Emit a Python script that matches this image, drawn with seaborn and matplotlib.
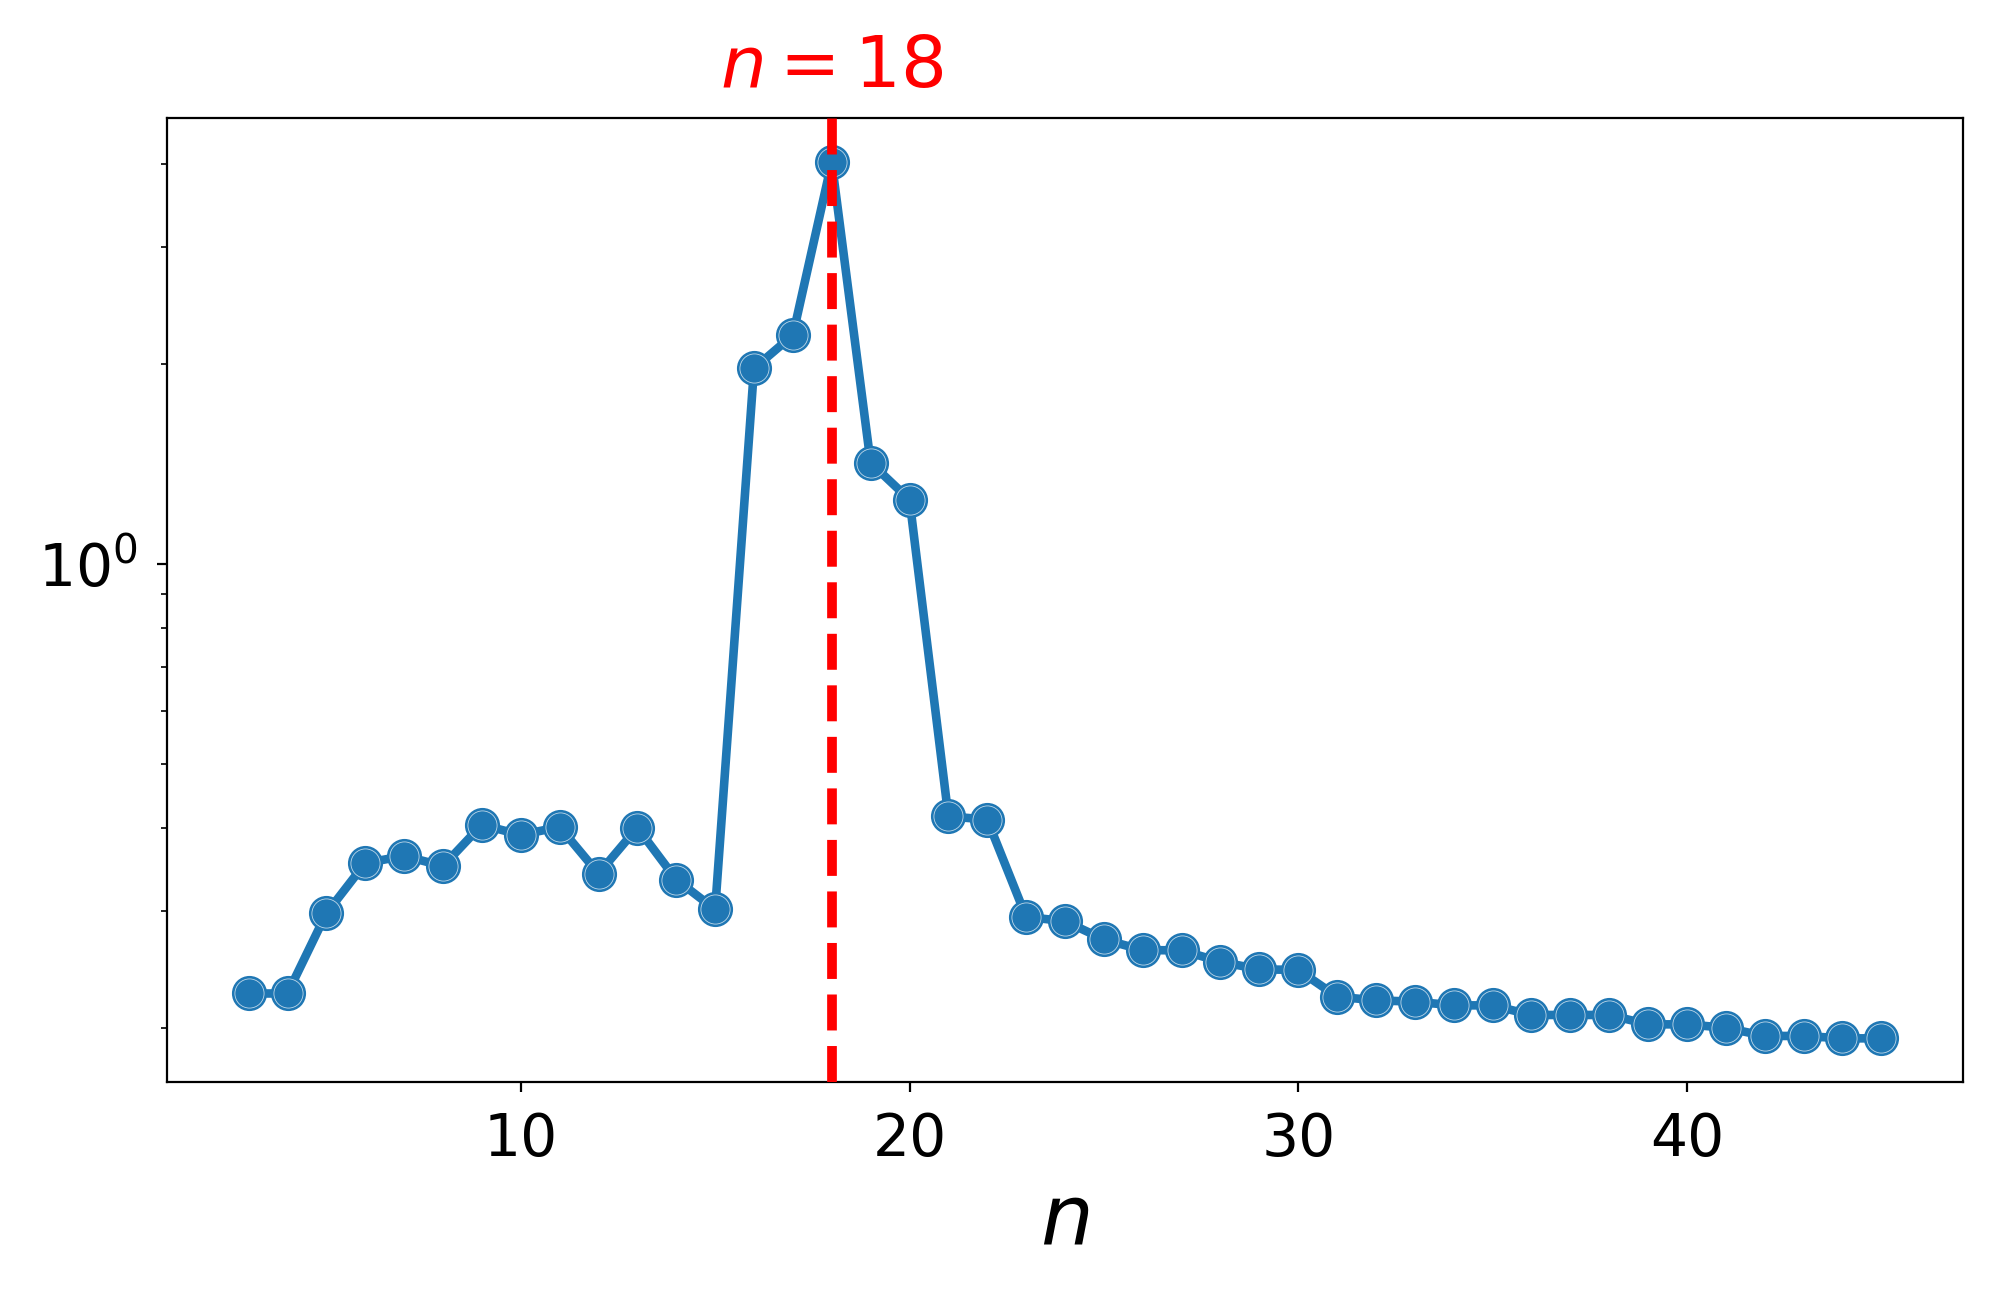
import numpy as np
import matplotlib
matplotlib.use("Agg")
import matplotlib.pyplot as plt
import matplotlib.transforms as mtransforms
import seaborn as sns

# values
n_values = list(range(3, 46))
scores = [
    0.2257, 0.2257, 0.298, 0.3546, 0.3636, 0.351, 0.405, 0.391, 0.402, 0.342,
    0.401, 0.335, 0.302, 1.97, 2.21, 4.03, 1.42, 1.25, 0.417, 0.4124,
    0.2943, 0.290, 0.2722, 0.2623, 0.2621, 0.2519, 0.2454, 0.2449, 0.2232, 0.2204,
    0.2194, 0.2166, 0.2166, 0.2095, 0.2095, 0.2095, 0.2028, 0.2028, 0.2004, 0.1948,
    0.1948, 0.1932, 0.1932,
]
best_n = 18
blue = "#1f77b4"

fig = plt.figure(figsize=(10, 6.47), dpi=200)
ax = fig.add_axes([0.0835, 0.1637, 0.898, 0.7451])

# bigger disks underneath, seaborn markers with thin white edge on top
sns.scatterplot(x=n_values, y=scores, s=160, color=blue, linewidth=0, ax=ax, zorder=2)
sns.lineplot(x=n_values, y=scores, marker="o", markersize=10.5, linewidth=3.1,
             color=blue, markeredgecolor=(1, 1, 1, 0.7), markeredgewidth=0.3,
             ax=ax, zorder=3)

ax.set_yscale("log")
ax.axvline(best_n, color="red", linestyle="--", linewidth=3.5, zorder=4)

trans = mtransforms.blended_transform_factory(ax.transData, ax.transAxes)
ax.text(best_n, 1.017, f"$n={best_n}$", color="red", fontsize=26,
        ha="center", va="bottom", transform=trans)

ax.set_xlabel("$n$", fontsize=30)
ax.tick_params(axis="both", which="major", labelsize=21, pad=7)

fig.savefig("out.png", dpi=200)
